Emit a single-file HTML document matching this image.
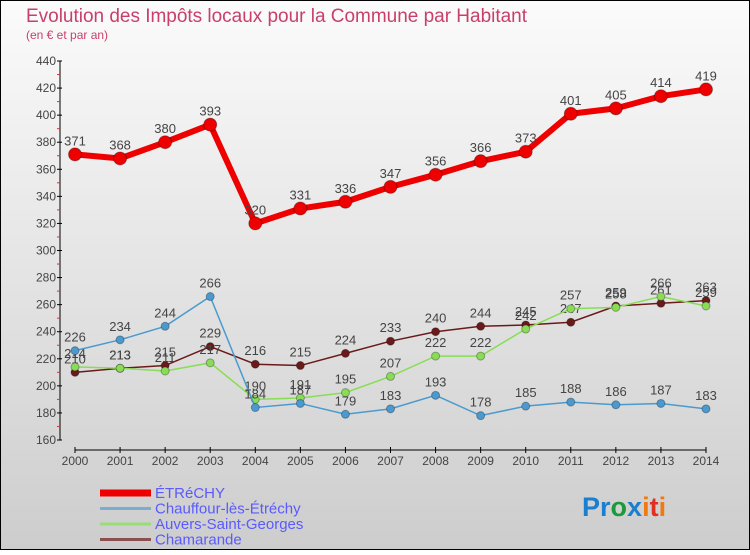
<!DOCTYPE html>
<html><head><meta charset="utf-8"><style>
body{margin:0;width:750px;height:550px;overflow:hidden;font-family:"Liberation Sans",sans-serif}
svg text{font-family:"Liberation Sans",sans-serif}
</style></head><body>
<svg width="750" height="550" xmlns="http://www.w3.org/2000/svg">
<defs><linearGradient id="bg" x1="0" y1="0" x2="0" y2="1"><stop offset="0" stop-color="#fbfbfb"/><stop offset="1" stop-color="#cdcdcd"/></linearGradient></defs>
<rect x="0.5" y="0.5" width="749" height="549" fill="url(#bg)" stroke="#000"/>
<text x="26" y="22" font-size="19" fill="#c8406a" textLength="501">Evolution des Impôts locaux pour la Commune par Habitant</text>
<text x="26" y="39" font-size="12" fill="#c8406a">(en € et par an)</text>
<g id="axes"></g><g id="series"></g><g id="legend"></g>
<text x="582" y="516" font-size="27" font-weight="bold"><tspan fill="#1a7fd0">P</tspan><tspan fill="#1a7fd0">r</tspan><tspan fill="#1a9a3a">o</tspan><tspan fill="#1a7fd0">x</tspan><tspan fill="#f07a10">i</tspan><tspan fill="#e03020">t</tspan><tspan fill="#f07a10">i</tspan></text>
</svg>
<script>
const years=[2000,2001,2002,2003,2004,2005,2006,2007,2008,2009,2010,2011,2012,2013,2014];
const etrechy=[371,368,380,393,320,331,336,347,356,366,373,401,405,414,419];
const chauffour=[226,234,244,266,184,187,179,183,193,178,185,188,186,187,183];
const auvers=[214,213,211,217,190,191,195,207,222,222,242,257,258,266,259];
const chamarande=[210,213,215,229,216,215,224,233,240,244,245,247,259,261,263];
const yTicks=[160,180,200,220,240,260,280,300,320,340,360,380,400,420,440];
const NS='http://www.w3.org/2000/svg';
const X=i=>75+i*(706-75)/14, Y=v=>440-(v-160)*(440-61)/280;
function mk(t,a,p){const e=document.createElementNS(NS,t);for(const k in a)e.setAttribute(k,a[k]);p.appendChild(e);return e;}
const ax=document.getElementById('axes');
let yl=mk('line',{x1:60,y1:61,x2:60,y2:440,stroke:'#000'},ax);

yTicks.forEach(v=>{mk('line',{x1:57,x2:62,y1:Y(v),y2:Y(v),stroke:'#000'},ax);
 if(v<440)mk('line',{x1:57,x2:60,y1:Y(v+10),y2:Y(v+10),stroke:'#e03030'},ax);
 const t=mk('text',{x:56,y:Y(v)+4,'font-size':12,'text-anchor':'end',fill:'#444'},ax);t.textContent=v;
 });
let xl=mk('line',{x1:75,y1:450,x2:706,y2:450,stroke:'#000'},ax);

years.forEach((y,i)=>{mk('line',{x1:X(i),x2:X(i),y1:447,y2:453,stroke:'#000'},ax);
 const t=mk('text',{x:X(i),y:465,'font-size':12,'text-anchor':'middle',fill:'#444'},ax);t.textContent=y;
 });
const sg=document.getElementById('series');
const S=[['chamarande',chamarande,'#6b1a1a',1.5,4],['auvers',auvers,'#88dd55',1.5,4],['chauffour',chauffour,'#4a9ad0',1.5,4],['etrechy',etrechy,'#ee0000',6,6.5]];
S.forEach(([n,d,c,w,r])=>{const g=mk('g',{},sg);
 const p=mk('polyline',{points:d.map((v,i)=>X(i)+','+Y(v)).join(' '),fill:'none',stroke:c,'stroke-width':w},g);
 
 d.forEach((v,i)=>{const m=mk('circle',{cx:X(i),cy:Y(v),r:r,fill:c,stroke:'rgba(0,0,0,0.3)','stroke-width':1},g);
  
  const t=mk('text',{x:X(i),y:Y(v)-9,'font-size':13,'text-anchor':'middle',fill:'#444'},g);t.textContent=v;
  });});
const lg=document.getElementById('legend');
const L=[['ÉTRéCHY','#ee0000',7],['Chauffour-lès-Étréchy','#7aaed0',3],['Auvers-Saint-Georges','#99dd77',3],['Chamarande','#8a5050',3]];
L.forEach(([n,c,w],i)=>{const y=493+i*15.5;const g=mk('g',{},lg);
 mk('line',{x1:100,x2:151,y1:y,y2:y,stroke:c,'stroke-width':w},g);
 const t=mk('text',{x:155,y:y+5,'font-size':15,fill:'#5a5aff'},g);t.textContent=n;});
</script>
</body></html>
